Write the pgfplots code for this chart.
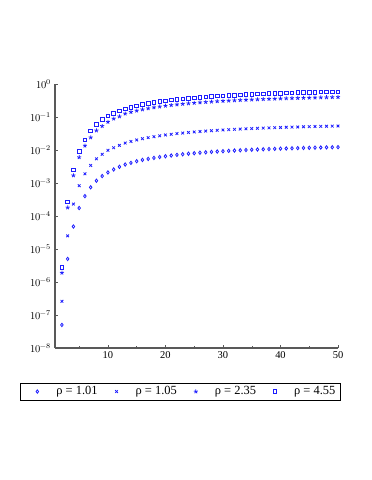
\documentclass[border=0pt]{standalone}
\usepackage{pgfplots}
\pgfplotsset{compat=1.18}
\usepackage{fontspec}
\setmainfont{Liberation Serif}
\usepackage{unicode-math}
\setmathfont{Latin Modern Math}
\definecolor{mblue}{RGB}{30,30,255}
\begin{document}
\fontsize{10.5}{12}\selectfont
\begin{tikzpicture}[x=1bp,y=1bp]
\path[use as bounding box] (0,0) rectangle (371,480);
\begin{axis}[
    at={(55bp,132bp)}, anchor=south west,
    scale only axis, width=283bp, height=264bp,
    ymode=log,
    xmin=0.8, xmax=50,
    ymin=1e-8, ymax=1,
    axis x line*=bottom, axis y line*=left,
    axis line style={draw=gray!70!black, line width=1.1pt},
    xtick={10,20,30,40,50},
    minor xtick={5,15,25,35,45},
    ytick={1e-8,1e-7,1e-6,1e-5,1e-4,1e-3,1e-2,1e-1,1},
    yticklabels={$10^{-8}$,$10^{-7}$,$10^{-6}$,$10^{-5}$,$10^{-4}$,$10^{-3}$,$10^{-2}$,$10^{-1}$,$10^{0}$},
    yminorticks=false,
    tick style={draw=gray!70!black, thin},
    major tick length=3bp, minor tick length=2bp,
    tick label style={font=\fontsize{10.5}{12}\selectfont},
    /pgf/number format/assume math mode=true,
    xticklabel={\pgfmathprintnumber{\tick}},
    every axis plot/.append style={only marks, color=mblue, line width=0.8pt,
        mark options={draw=mblue, fill=none, solid}},
    legend image code/.code={
        \path[draw=none, fill=none] (0bp,-3bp) rectangle (29bp,3bp);
        \draw[mark repeat=2,mark phase=2,#1] plot coordinates {(0bp,0bp)(14.5bp,0bp)(29bp,0bp)};},
    legend columns=4,
    legend style={at={(0.442,-0.165)}, anchor=center, draw=black, line width=0.6pt,
        font=\fontsize{12.5}{14}\selectfont, inner xsep=2.5bp, inner ysep=1.5bp,
        nodes={inner xsep=2bp},
        /tikz/every even column/.append style={column sep=2.5bp},
        /tikz/every odd column/.append style={column sep=2.5bp}},
    legend cell align=left,
]
\addplot[mark=diamond, mark size=1.7] coordinates {
(2,5.0e-8) (3,5.0e-6) (4,4.8e-5) (5,1.74e-4) (6,4.0e-4) (7,7.4e-4) (8,1.17e-3) (9,1.62e-3) (10,2.09e-3)
(11,2.57e-3) (12,3.09e-3) (13,3.63e-3) (14,4.07e-3) (15,4.57e-3) (16,5.01e-3) (17,5.37e-3) (18,5.75e-3)
(19,0.00612) (20,0.00647) (21,0.00680) (22,0.00712) (23,0.00743) (24,0.00772) (25,0.00799) (26,0.00826)
(27,0.00851) (28,0.00875) (29,0.00898) (30,0.00920) (31,0.00942) (32,0.00962) (33,0.00981) (34,0.01000)
(35,0.01018) (36,0.01035) (37,0.01052) (38,0.01067) (39,0.01083) (40,0.01098) (41,0.01112) (42,0.01126)
(43,0.01139) (44,0.01152) (45,0.01164) (46,0.01176) (47,0.01188) (48,0.01199) (49,0.01210) (50,0.01220)
};
\addplot[mark=x, mark size=1.9] coordinates {
(2,2.6e-7) (3,2.5e-5) (4,2.3e-4) (5,8.3e-4) (6,1.9e-3) (7,3.4e-3) (8,5.4e-3) (9,7.4e-3) (10,9.8e-3)
(11,0.0117) (12,0.0138) (13,0.01622) (14,0.01820) (15,0.02010) (16,0.02194) (17,0.02370) (18,0.02537)
(19,0.02699) (20,0.02851) (21,0.02997) (22,0.03136) (23,0.03268) (24,0.03395) (25,0.03515) (26,0.03631)
(27,0.03741) (28,0.03846) (29,0.03947) (30,0.04044) (31,0.04136) (32,0.04223) (33,0.04308) (34,0.04389)
(35,0.04466) (36,0.04541) (37,0.04613) (38,0.04682) (39,0.04749) (40,0.04813) (41,0.04875) (42,0.04935)
(43,0.04993) (44,0.05049) (45,0.05103) (46,0.05155) (47,0.05205) (48,0.05254) (49,0.05301) (50,0.05346)
};
\addplot[mark=star, mark size=2.1] coordinates {
(2,1.9e-6) (3,1.8e-4) (4,1.7e-3) (5,6.0e-3) (6,0.0135) (7,0.024) (8,0.039) (9,0.053) (10,0.071)
(11,0.089) (12,0.104) (13,0.1265) (14,0.1413) (15,0.1557) (16,0.1694) (17,0.1826) (18,0.1950)
(19,0.2069) (20,0.2183) (21,0.2291) (22,0.2393) (23,0.2491) (24,0.2585) (25,0.2673) (26,0.2758)
(27,0.2839) (28,0.2916) (29,0.2990) (30,0.3061) (31,0.3127) (32,0.3192) (33,0.3254) (34,0.3313)
(35,0.3369) (36,0.3423) (37,0.3476) (38,0.3526) (39,0.3574) (40,0.3623) (41,0.3668) (42,0.3711)
(43,0.3753) (44,0.3794) (45,0.3832) (46,0.3870) (47,0.3907) (48,0.3942) (49,0.3976) (50,0.4009)
};
\addplot[mark=square, mark size=1.8] coordinates {
(2,2.8e-6) (3,2.7e-4) (4,2.5e-3) (5,9.1e-3) (6,0.020) (7,0.038) (8,0.059) (9,0.0851) (10,0.1077)
(11,0.1305) (12,0.1531) (13,0.1753) (14,0.1970) (15,0.2177) (16,0.2379) (17,0.2571) (18,0.2754)
(19,0.2930) (20,0.3097) (21,0.3257) (22,0.3410) (23,0.3556) (24,0.3694) (25,0.3826) (26,0.3953)
(27,0.4074) (28,0.4189) (29,0.4301) (30,0.4406) (31,0.4507) (32,0.4604) (33,0.4697) (34,0.4786)
(35,0.4872) (36,0.4955) (37,0.5034) (38,0.5110) (39,0.5183) (40,0.5254) (41,0.5322) (42,0.5388)
(43,0.5451) (44,0.5513) (45,0.5572) (46,0.5630) (47,0.5685) (48,0.5737) (49,0.5790) (50,0.5840)
};
\legend{ρ = 1.01, ρ = 1.05, ρ = 2.35, ρ = 4.55}
\end{axis}
\end{tikzpicture}
\end{document}
